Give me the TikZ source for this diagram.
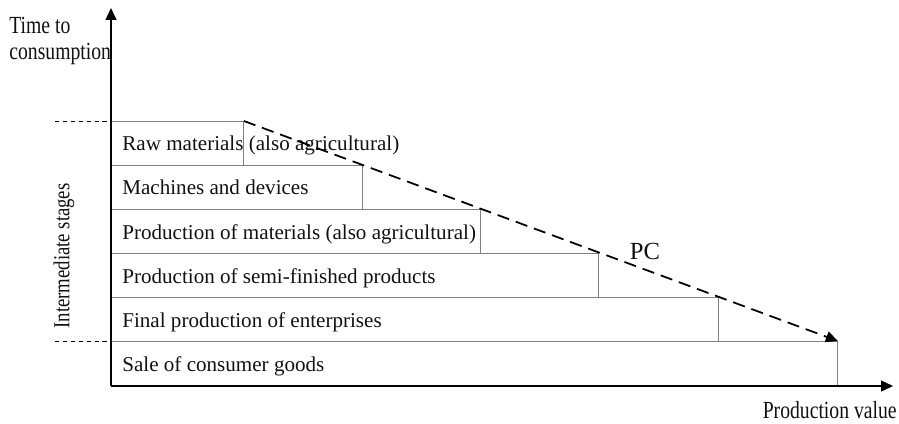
\documentclass[tikz,border=0pt]{standalone}
\usepackage{fontspec}
\usepackage{graphicx}
\setmainfont{Liberation Serif}
\usetikzlibrary{arrows.meta,positioning,calc}
\definecolor{rule}{HTML}{808080}
\definecolor{ink}{HTML}{111111}
\newcommand{\narrow}[1]{\scalebox{0.8}[1]{#1}}

\begin{document}
\begin{tikzpicture}[
  x=0.02cm,y=-0.02cm,
  font=\fontsize{12}{14}\selectfont,
  >={Triangle[length=2.4mm,width=2.2mm]},
  stage/.style={draw=rule,line width=0.5pt,anchor=north west,minimum height=0.88cm,inner sep=0pt},
  stagetext/.style={anchor=base west,inner sep=0pt,text=ink},
  axis/.style={->,draw=black,line width=0.8pt},
  guide/.style={draw=black,line width=0.4pt,dash pattern=on 2.5pt off 2pt},
  flow/.style={->,draw=black,line width=1pt,dash pattern=on 7pt off 4pt},
  axlabel/.style={inner sep=0pt,text=ink,font=\fontsize{14}{16}\selectfont}
]
\useasboundingbox (0,0) rectangle (899,423);
% --- stages ---------------------------------------------------------------
\foreach \i/\w/\txt in {1/243/{Raw materials (also agricultural)},
                        2/362/{Machines and devices},
                        3/480/{Production of materials (also agricultural)},
                        4/598/{Production of semi-finished products},
                        5/718/{Final production of enterprises},
                        6/837/{Sale of consumer goods}}{
  \node[stage,minimum width={(\w-111)*0.02cm}] (s\i) at (111,{121+44*(\i-1)}) {};
  \node[stagetext] (t\i) at ([xshift=0.22cm,yshift=-0.6cm]s\i.north west) {\txt};
}
% --- axes -----------------------------------------------------------------
\coordinate (O) at (111,386);
\coordinate (ytip) at (111,8);
\coordinate (xtip) at (893,386);
\draw[axis] (O) -- (ytip);
\draw[axis] (O) -- (xtip);
\node[axlabel,anchor=north west,align=left] (ylab) at (9,17)
  {\narrow{Time to}\\[-1pt]\narrow{consumption}};
\node[axlabel,anchor=east] (xlab) at (897,410) {\narrow{Production value}};
% --- intermediate stages bracket -------------------------------------------
\coordinate (g1) at (55,121);
\coordinate (g2) at (55,341);
\draw[guide] (g1) -- (s1.north west);
\draw[guide] (g2) -- (s6.north west);
\node[axlabel,rotate=90,font=\fontsize{13}{15}\selectfont] (mid) at (64,256)
  {\scalebox{0.82}[1]{Intermediate stages}};
% --- production curve -----------------------------------------------------
\draw[flow] (s1.north east) -- (s6.north east);
\node[axlabel] (pc) at (645,251) {PC};
\end{tikzpicture}
\end{document}
